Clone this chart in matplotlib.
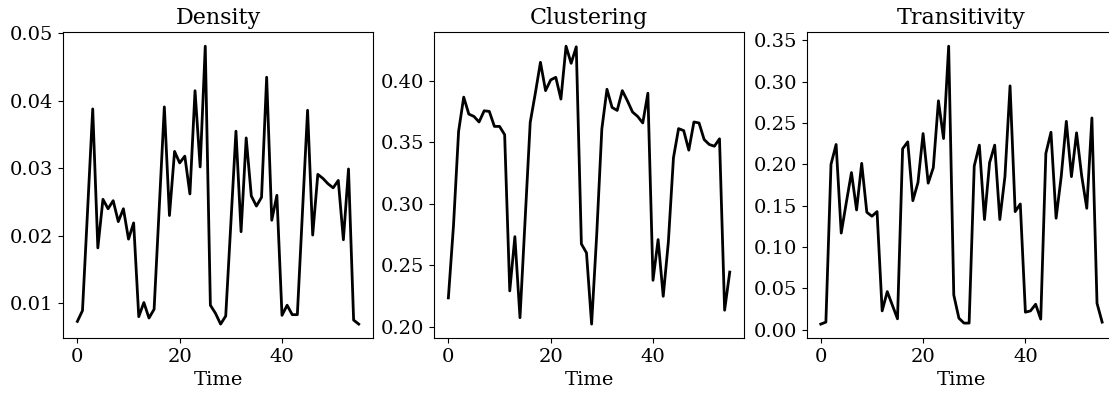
import matplotlib
matplotlib.use("Agg")
import matplotlib.pyplot as plt
from matplotlib.ticker import MultipleLocator, FormatStrFormatter

time = list(range(56))

density = [0.0073, 0.0089, 0.0238, 0.0388, 0.0182, 0.0254, 0.0240, 0.0252, 0.0221, 0.0240,
           0.0195, 0.0219, 0.0080, 0.0101, 0.0078, 0.0091, 0.0241, 0.0391, 0.0230, 0.0325,
           0.0308, 0.0318, 0.0262, 0.0415, 0.0302, 0.0481, 0.0097, 0.0085, 0.0069, 0.0081,
           0.0218, 0.0355, 0.0206, 0.0345, 0.0259, 0.0244, 0.0257, 0.0435, 0.0223, 0.0260,
           0.0082, 0.0097, 0.0083, 0.0083, 0.0235, 0.0386, 0.0201, 0.0291, 0.0285, 0.0277,
           0.0271, 0.0282, 0.0194, 0.0299, 0.0075, 0.0069]

clustering = [0.2234, 0.2821, 0.3588, 0.3866, 0.3728, 0.3709, 0.3664, 0.3755, 0.3750, 0.3628,
              0.3628, 0.3561, 0.2291, 0.2732, 0.2073, 0.2867, 0.3661, 0.3898, 0.4149, 0.3919,
              0.4006, 0.4027, 0.3850, 0.4280, 0.4141, 0.4275, 0.2673, 0.2600, 0.2021, 0.2750,
              0.3607, 0.3930, 0.3782, 0.3758, 0.3919, 0.3836, 0.3745, 0.3709, 0.3656, 0.3898,
              0.2377, 0.2708, 0.2247, 0.2687, 0.3373, 0.3610, 0.3594, 0.3435, 0.3664, 0.3656,
              0.3521, 0.3481, 0.3467, 0.3527, 0.2134, 0.2444]

transitivity = [0.0066, 0.0090, 0.1999, 0.2239, 0.1167, 0.1540, 0.1899, 0.1447, 0.2011, 0.1419,
                0.1371, 0.1427, 0.0226, 0.0459, 0.0294, 0.0130, 0.2187, 0.2271, 0.1559, 0.1779,
                0.2371, 0.1771, 0.1959, 0.2767, 0.2311, 0.3428, 0.0418, 0.0138, 0.0078, 0.0078,
                0.1979, 0.2231, 0.1331, 0.2019, 0.2231, 0.1331, 0.1850, 0.2948, 0.1427, 0.1519,
                0.0210, 0.0226, 0.0306, 0.0126, 0.2131, 0.2387, 0.1347, 0.1850, 0.2519, 0.1850,
                0.2380, 0.1860, 0.1467, 0.2560, 0.0318, 0.0090]

titles = ["Density", "Clustering", "Transitivity"]
series = [density, clustering, transitivity]
y_steps = [0.01, 0.05, 0.05]

plt.rcParams['font.family'] = ['DejaVu Serif']

W, H = 1109, 401
fig = plt.figure(figsize=(W / 100, H / 100), dpi=100)

lefts = [63.3, 434.3, 806.7]
ax_w = 309.5
top, bottom = 32.3, 338.0

for left, title, vals, step in zip(lefts, titles, series, y_steps):
    ax = fig.add_axes([left / W, (H - bottom) / H, ax_w / W, (bottom - top) / H])
    ax.plot(time, vals, color="black", linewidth=2.0)
    ax.set_title(title, fontsize=16)
    ax.set_xlabel("Time", fontsize=14)
    ax.set_xticks([0, 20, 40])
    ax.tick_params(labelsize=14)
    ax.yaxis.set_major_locator(MultipleLocator(step))
    ax.yaxis.set_major_formatter(FormatStrFormatter('%.2f'))

fig.savefig("out.png", dpi=100)
